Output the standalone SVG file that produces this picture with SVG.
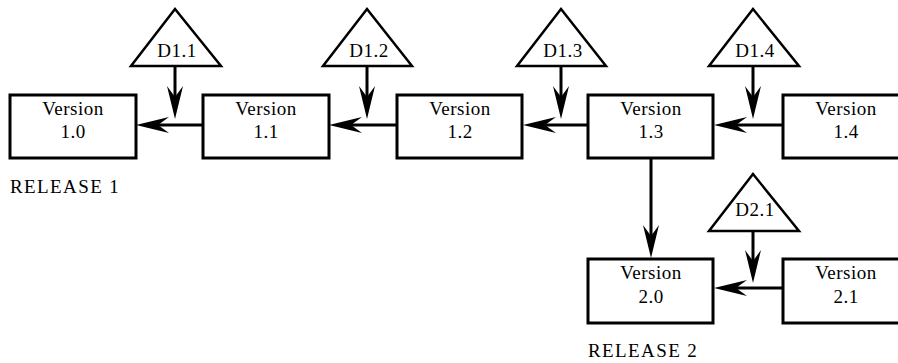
<svg xmlns="http://www.w3.org/2000/svg" width="898" height="363" viewBox="0 0 898 363">
  <style>
    .box { fill: #fff; stroke: #000; stroke-width: 3; }
    .tri { fill: #fff; stroke: #000; stroke-width: 2.5; stroke-linejoin: miter; }
    .lbl { font-size: 19px; fill: #000; text-anchor: middle; letter-spacing: 0.5px; }
    .rel { font-size: 19px; fill: #000; letter-spacing: 1.4px; }
    .edge { fill: none; stroke: #000; stroke-width: 3; marker-end: url(#head); }
  </style>
  <defs>
    <!-- barbed arrowhead; tip at (0,0), line ends inside the head -->
    <marker id="head" markerUnits="userSpaceOnUse" viewBox="-34 -9 35 18" refX="-18" refY="0" markerWidth="35" markerHeight="18" orient="auto">
      <path d="M0,0 L-33,-8 L-22,0 L-33,8 Z" fill="#000"/>
    </marker>
  </defs>
  <rect width="898" height="363" fill="#fff"/>

  <g id="connectors">
    <!-- horizontal derivation chain -->
    <line class="edge" x1="203" y1="125" x2="154" y2="125"/>
    <line class="edge" x1="397" y1="125" x2="347" y2="125"/>
    <line class="edge" x1="588" y1="125" x2="541" y2="125"/>
    <line class="edge" x1="783" y1="125" x2="732" y2="125"/>
    <line class="edge" x1="783" y1="288" x2="732" y2="288"/>
    <!-- deltas into the chain -->
    <line class="edge" x1="175" y1="66" x2="175" y2="101"/>
    <line class="edge" x1="367" y1="66" x2="367" y2="101"/>
    <line class="edge" x1="561" y1="66" x2="561" y2="101"/>
    <line class="edge" x1="753" y1="66" x2="753" y2="101"/>
    <line class="edge" x1="753" y1="231" x2="753" y2="265"/>
    <!-- branch to release 2 -->
    <line class="edge" x1="651" y1="158" x2="651" y2="240"/>
  </g>

  <g font-family="'Liberation Serif', 'DejaVu Serif', serif">
  <g id="v10">
    <rect class="box" x="10" y="95" width="126" height="63"/>
    <text class="lbl" x="73" y="115">Version</text>
    <text class="lbl" x="73" y="138">1.0</text>
  </g>
  <g id="v11">
    <rect class="box" x="203" y="95" width="126" height="63"/>
    <text class="lbl" x="266" y="115">Version</text>
    <text class="lbl" x="266" y="138">1.1</text>
  </g>
  <g id="v12">
    <rect class="box" x="397" y="95" width="125" height="63"/>
    <text class="lbl" x="460" y="115">Version</text>
    <text class="lbl" x="460" y="138">1.2</text>
  </g>
  <g id="v13">
    <rect class="box" x="588" y="95" width="125" height="63"/>
    <text class="lbl" x="651" y="115">Version</text>
    <text class="lbl" x="651" y="138">1.3</text>
  </g>
  <g id="v14">
    <rect class="box" x="783" y="95" width="126" height="63"/>
    <text class="lbl" x="846" y="115">Version</text>
    <text class="lbl" x="846" y="138">1.4</text>
  </g>
  <g id="v20">
    <rect class="box" x="588" y="259" width="125" height="64"/>
    <text class="lbl" x="651" y="279">Version</text>
    <text class="lbl" x="651" y="303">2.0</text>
  </g>
  <g id="v21">
    <rect class="box" x="783" y="259" width="126" height="64"/>
    <text class="lbl" x="846" y="279">Version</text>
    <text class="lbl" x="846" y="303">2.1</text>
  </g>

  <g id="d11">
    <polygon class="tri" points="175,9 131,66 221,66"/>
    <text class="lbl" x="177" y="57">D1.1</text>
  </g>
  <g id="d12">
    <polygon class="tri" points="367,9 323,66 412,66"/>
    <text class="lbl" x="369" y="57">D1.2</text>
  </g>
  <g id="d13">
    <polygon class="tri" points="561,9 517,66 606,66"/>
    <text class="lbl" x="563" y="57">D1.3</text>
  </g>
  <g id="d14">
    <polygon class="tri" points="753,9 709,66 799,66"/>
    <text class="lbl" x="755" y="57">D1.4</text>
  </g>
  <g id="d21">
    <polygon class="tri" points="753,174 709,231 799,231"/>
    <text class="lbl" x="755" y="216">D2.1</text>
  </g>

  <g id="releases">
    <text class="rel" x="10" y="193">RELEASE 1</text>
    <text class="rel" x="588" y="357">RELEASE 2</text>
  </g>
  </g>
</svg>
